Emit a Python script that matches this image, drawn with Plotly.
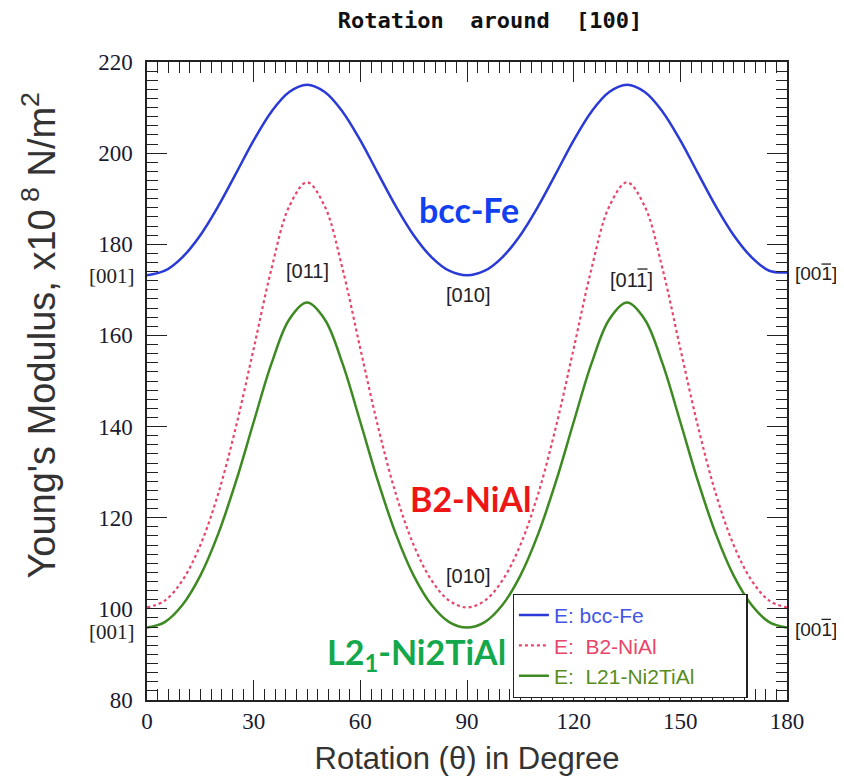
import plotly.graph_objects as go

theta = list(range(0, 181, 5))

bcc_fe = [173.2, 174.2, 177.2, 182.0, 188.3, 195.5, 202.8, 209.1, 213.4, 215.0,
          213.4, 209.1, 202.8, 195.5, 188.3, 182.0, 177.2, 174.2, 173.2,
          174.2, 177.2, 182.0, 188.3, 195.5, 202.8, 209.1, 213.4, 215.0,
          213.4, 209.1, 202.8, 195.5, 188.3, 182.0, 177.2, 174.2, 173.8]

b2_nial = [100.3, 101.8, 106.3, 114.0, 125.2, 139.9, 157.1, 174.6, 188.3, 193.6,
           188.3, 174.6, 157.1, 139.9, 125.2, 114.0, 106.3, 101.8, 100.3,
           101.8, 106.3, 114.0, 125.2, 139.9, 157.1, 174.6, 188.3, 193.6,
           188.3, 174.6, 157.1, 139.9, 125.2, 114.0, 106.3, 101.8, 100.3]

l21 = [95.9, 97.1, 100.9, 107.3, 116.4, 127.9, 141.0, 153.8, 163.5, 167.2,
       163.5, 153.8, 141.0, 127.9, 116.4, 107.3, 100.9, 97.1, 95.9,
       97.1, 100.9, 107.3, 116.4, 127.9, 141.0, 153.8, 163.5, 167.2,
       163.5, 153.8, 141.0, 127.9, 116.4, 107.3, 100.9, 97.1, 95.9]

x_ticks = [0, 30, 60, 90, 120, 150, 180]
y_ticks = [80, 100, 120, 140, 160, 180, 200, 220]

BLUE = "#2a3ad6"
RED = "#e8456a"
GREEN = "#3d8a22"
NB = "\u00a0"

fig = go.Figure()
fig.add_trace(go.Scatter(x=theta, y=bcc_fe, mode="lines", line=dict(color=BLUE, width=2.5, shape="spline"),
                         name='<span style="color:#4455e6">E: bcc-Fe</span>'))
fig.add_trace(go.Scatter(x=theta, y=b2_nial, mode="lines", line=dict(color=RED, width=2.2, dash="3px,3px", shape="spline"),
                         name='<span style="color:#e8456a">E:  B2-NiAl</span>'))
fig.add_trace(go.Scatter(x=theta, y=l21, mode="lines", line=dict(color=GREEN, width=2.5, shape="spline"),
                         name='<span style="color:#5a8c1e">E:  L21-Ni2TiAl</span>' + NB * 8))

tickfont = dict(family="Liberation Serif", size=23, color="#1a1a30")
axis_common = dict(showline=True, linecolor="#222", linewidth=1.5, mirror="ticks",
                   ticks="inside", ticklen=20, tickwidth=1.3, tickcolor="#222",
                   showgrid=False, zeroline=False, tickfont=tickfont)

fig.update_xaxes(range=[0, 180], tickvals=x_ticks,
                 minor=dict(dtick=3, ticklen=11, tickcolor="#222", ticks="inside", tickwidth=1.3, showgrid=False),
                 title=dict(text="Rotation (θ) in Degree", font=dict(family="Liberation Sans", size=31, color="#333"), standoff=14),
                 **axis_common)
fig.update_yaxes(range=[80, 220], tickvals=y_ticks,
                 minor=dict(dtick=2, ticklen=11, tickcolor="#222", ticks="inside", tickwidth=1.3, showgrid=False),
                 ticklabelstandoff=8,
                 **axis_common)

anns = []
def lab(x, y, text, size=20, color="#222", family="Liberation Sans", bold=False, xref="x", yref="y", angle=0):
    anns.append(dict(x=x, y=y, xref=xref, yref=yref, text=text, showarrow=False,
                     xanchor="center", yanchor="middle", textangle=angle,
                     font=dict(family=family, size=size, color=color, weight="bold" if bold else "normal")))

# y-axis title
lab(-0.169, 0.571, "Young's Modulus, x10<sup> 8</sup> N/m<sup>2</sup>", size=38, color="#333",
    xref="paper", yref="paper", angle=-90)

lab(90.6, 187.7, "bcc-Fe", size=34, color="#1040f0", family="Lato", bold=True)
lab(90.9, 124.3, "B2-NiAl", size=34, color="#ee1515", family="Lato", bold=True)
lab(75.7, 90.0, "L2<sub>1</sub>-Ni2TiAl", size=34, color="#14a84c", family="Lato", bold=True)

lab(-0.054, 173.0, "[001]", size=21, family="Liberation Serif", xref="paper")
lab(-0.054, 95.0, "[001]", size=21, family="Liberation Serif", xref="paper")
lab(45.1, 174.1, "[011]")
lab(90.3, 168.9, "[010]")
lab(136.4, 172.2, "[011]")
lab(90.3, 107.3, "[010]")
lab((816 - 147) / 640, 173.5, "[001]", size=19, xref="paper")
lab((816 - 147) / 640, 95.5, "[001]", size=19, xref="paper")
fig.update_layout(annotations=anns)

# overbars above the final "1" of the Miller indices with negative component
def bar(x0, x1, y):
    fig.add_shape(type="line", xref="paper", yref="paper", x0=x0, x1=x1, y0=y, y1=y,
                  line=dict(color="#222", width=1.3))

bar((637.5 - 147) / 640, (647.5 - 147) / 640, (703 - 270) / 641)
bar((821.5 - 147) / 640, (831.0 - 147) / 640, (703 - 265) / 641)
bar((821.5 - 147) / 640, (831.0 - 147) / 640, (703 - 622) / 641)

fig.update_layout(
    width=836, height=774,
    margin=dict(l=139, r=57, t=54, b=79),
    paper_bgcolor="white", plot_bgcolor="white",
    title=dict(text="Rotation  around  [100]", x=0.5766, xanchor="center", y=0.9845, yanchor="middle",
               font=dict(family="DejaVu Sans Mono", size=22, color="#111", weight="bold")),
    showlegend=True,
    legend=dict(x=0.5714, y=0.1666, xanchor="left", yanchor="top",
                bordercolor="#222", borderwidth=1.2, bgcolor="white",
                font=dict(family="Liberation Sans", size=21), tracegroupgap=0),
)

fig.write_html("out.html")
